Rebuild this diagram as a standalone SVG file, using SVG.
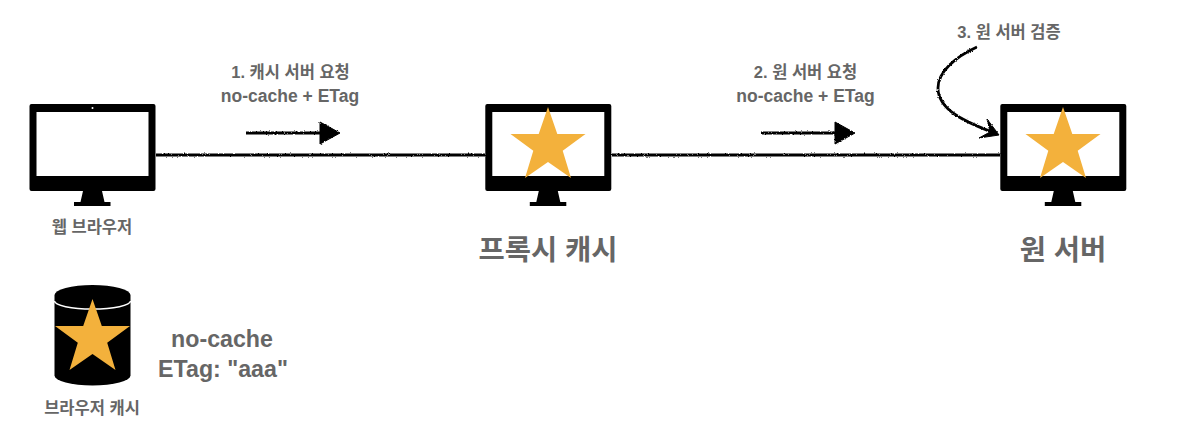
<svg xmlns="http://www.w3.org/2000/svg" width="1178" height="436" viewBox="0 0 1178 436">
<style>
text{font-family:"Liberation Sans","Noto Sans CJK KR",sans-serif;font-weight:700;fill:#666;text-anchor:middle}
.s{font-size:16.500px}.e{font-size:17.500px}.m{font-size:23.200px}.l{font-size:28.500px}
.star{fill:#f3b13c}
.c{fill:none;stroke:#000;stroke-width:2.800;filter:url(#rough)}
.h{fill:#000;stroke:#000;filter:url(#rough)}
</style>
<defs>
<filter id="rough" x="0" y="0" width="1178" height="436" filterUnits="userSpaceOnUse"><feTurbulence type="fractalNoise" baseFrequency="0.7" numOctaves="2" seed="3"/><feDisplacementMap in="SourceGraphic" scale="2.500" xChannelSelector="R" yChannelSelector="G"/></filter>
<g id="monitor">
<path d="M2,0H124a2,2 0 0 1 2,2V85a2,2 0 0 1-2,2H2a2,2 0 0 1-2-2V2a2,2 0 0 1 2-2ZM7,8V72H119V8Z" fill="#000" fill-rule="evenodd"/>
<path d="M53.500,87H72.500L75,98H81V102H44.500V98H51Z" fill="#000"/>
</g>
<polygon id="star" class="star" points="0,0 9.300,27 37.500,27 14.700,43.700 23,71 0,55 -23,71 -14.700,43.700 -37.500,27 -9.300,27"/>
</defs>
<g id="connectors">
<path class="c" d="M156,155H485"/>
<path class="c" d="M612,155H1000"/>
<path class="c" d="M246,133H322"/>
<path class="h" d="M320,122L340,133L320,144Z"/>
<path class="c" d="M761,133H838"/>
<path class="h" d="M835,122L855,133L835,144Z"/>
<path class="c" d="M977,47C955,57 938,72 938,88C938,110 965,122 997,134"/>
<path class="h" d="M987,119L999,135L979,138L990,132Z"/>
</g>
<g id="browser">
<use href="#monitor" x="29.500" y="104"/>
<circle cx="92.500" cy="108" r="1" fill="#fff"/>
<text class="s" x="92" y="233">웹 브라우저</text>
</g>
<g id="proxy">
<use href="#monitor" x="485.300" y="104"/>
<use href="#star" x="548" y="107"/>
<text class="l" x="548" y="260">프록시 캐시</text>
</g>
<g id="origin">
<use href="#monitor" x="1000.300" y="104"/>
<use href="#star" x="1063" y="107"/>
<text class="l" x="1063" y="260">원 서버</text>
</g>
<g id="browser-cache">
<path d="M54.500,295A38,10 0 0 1 130.500,295V375.500A38,10 0 0 1 54.500,375.500Z" fill="#000"/>
<path d="M54.500,301A38,8 0 0 0 130.500,301" fill="none" stroke="#fff" stroke-width="1.500"/>
<use href="#star" x="92.500" y="299"/>
<text class="s" x="92" y="414">브라우저 캐시</text>
</g>
<g id="labels">
<text class="s" x="290.500" y="78">1. 캐시 서버 요청</text>
<text class="e" x="290" y="102">no-cache + ETag</text>
<text class="s" x="805.500" y="78">2. 원 서버 요청</text>
<text class="e" x="805.500" y="102">no-cache + ETag</text>
<text class="s" x="1009" y="38">3. 원 서버 검증</text>
<text class="m" x="222" y="347">no-cache</text>
<text class="m" x="223" y="376.500">ETag: "aaa"</text>
</g>
</svg>
